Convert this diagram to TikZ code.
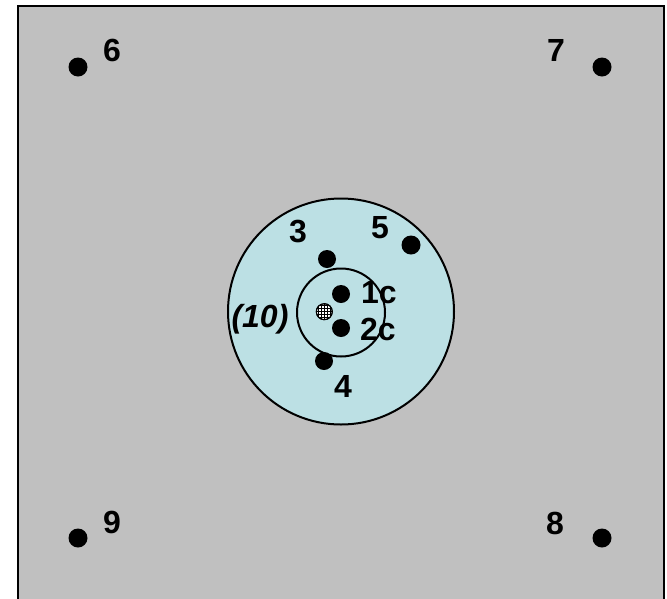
\documentclass[tikz,border=0pt]{standalone}
\usepackage{fontspec}
\setmainfont{Liberation Sans}
\definecolor{bggray}{RGB}{192,192,192}
\definecolor{lightcyan}{RGB}{188,224,228}
\begin{document}
\begin{tikzpicture}[x=1pt,y=-1pt,
  dot/.style={circle,fill=black,inner sep=0pt,minimum size=19pt},
  lbl/.style={font=\fontsize{32}{32}\selectfont\bfseries,inner sep=0pt,text=black}]
\useasboundingbox (0,0) rectangle (667,598);
\fill[white] (0,0) rectangle (667,598);
\draw[line width=2.5pt,fill=bggray] (18,6) rectangle (664,620);
% outer and inner circles
\node[circle,draw,line width=2pt,fill=lightcyan,minimum size=226pt,inner sep=0pt] (outer) at (341,311.5) {};
\node[circle,draw,line width=2pt,minimum size=88pt,inner sep=0pt] (inner) at (341,312.5) {};
% dots
\node[dot] (d6) at (78,67) {};
\node[dot] (d7) at (602,67) {};
\node[dot] (d9) at (78,538) {};
\node[dot] (d8) at (602,538) {};
\node[dot,minimum size=18pt] (d3) at (327,259) {};
\node[dot,minimum size=18pt] (d4) at (324,361) {};
\node[dot] (d5) at (411,245) {};
\node[dot,minimum size=18pt] (d1c) at (341,294) {};
\node[dot,minimum size=18pt] (d2c) at (341,328) {};
% cross-hatched centre mark
\node[circle,draw,line width=1pt,fill=white,minimum size=16pt,inner sep=0pt] (ctr) at (324.3,311.7) {};
\begin{scope}
\clip (324.3,311.7) circle (8pt);
\foreach \d in {-6,-3,0,3,6} {
  \draw[line width=0.8pt] (324.3+\d,302) -- (324.3+\d,322);
  \draw[line width=0.8pt] (314,311.7+\d) -- (335,311.7+\d);
}
\end{scope}
\draw[line width=1pt] (ctr) circle (8pt);
% labels
\node[lbl] (t6) at (112,50) {6};
\node[lbl] (t7) at (556,50) {7};
\node[lbl] (t9) at (112,522) {9};
\node[lbl] (t8) at (555,523) {8};
\node[lbl] (t3) at (298,232) {3};
\node[lbl] (t5) at (380,228) {5};
\node[lbl] (t1c) at (379,293) {1c};
\node[lbl] (t2c) at (378,329) {2c};
\node[lbl,font=\fontsize{32}{32}\selectfont\bfseries\itshape] (t10) at (260,319) {(10)};
\node[lbl] (t4) at (343,386) {4};
\end{tikzpicture}
\end{document}
